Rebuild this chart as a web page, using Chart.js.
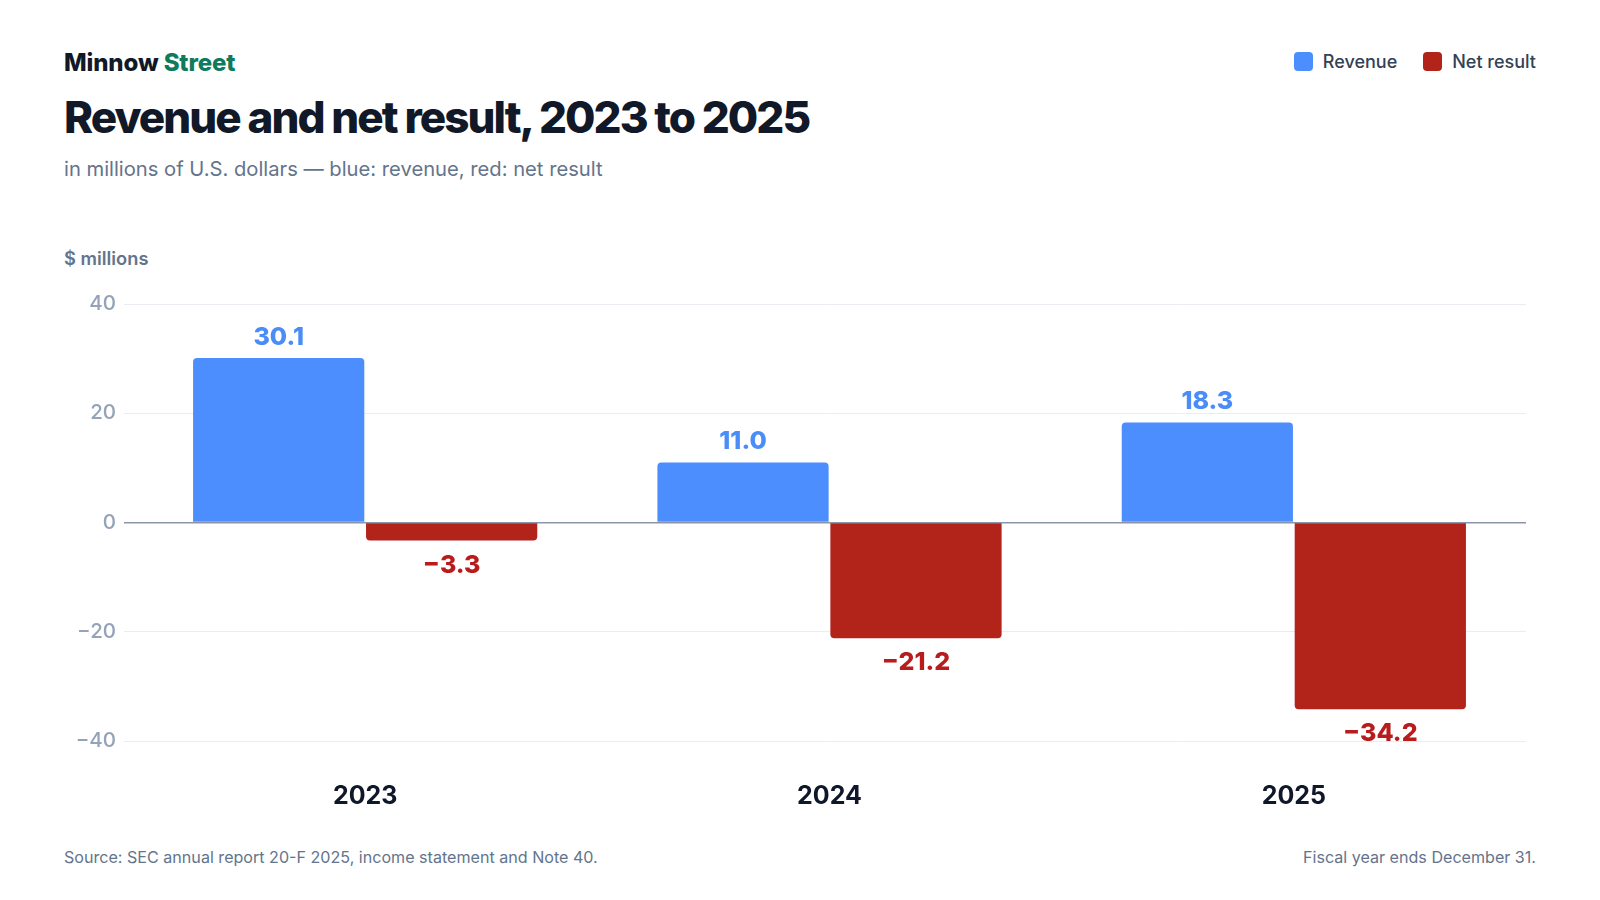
<!DOCTYPE html>
<html>
<head>
<meta charset="utf-8">
<script src="https://cdn.jsdelivr.net/npm/chart.js@4.4.1/dist/chart.umd.min.js"></script>
<style>
  html, body { margin: 0; padding: 0; background: #ffffff; }
  body { width: 1600px; height: 900px; position: relative; overflow: hidden; font-family: Inter, "Noto Sans", sans-serif; }
  .txt { position: absolute; line-height: 1; white-space: nowrap; }
  #brand { left: 64px; top: 51px; font-size: 24px; font-weight: 800; color: #111827; letter-spacing: -0.005em; }
  #brand span { color: #0f7b5a; }
  #title { left: 64px; top: 95px; font-size: 44px; font-weight: 800; color: #111827; letter-spacing: -0.044em; }
  #subtitle { left: 64px; top: 159px; font-size: 20.2px; font-weight: 400; color: #64748b; }
  #unit { left: 64px; top: 249px; font-size: 18.3px; font-weight: 600; color: #64748b; }
  #legend { right: 64px; top: 52px; display: flex; align-items: center; gap: 26px; font-size: 18px; font-weight: 500; color: #334155; }
  #legend .item { display: flex; align-items: center; gap: 10px; }
  #legend .sw { width: 19px; height: 19px; border-radius: 4px; display: inline-block; }
  #src { left: 64px; top: 849px; font-size: 16.1px; color: #64748b; }
  #note { right: 64px; top: 849px; font-size: 16.1px; color: #64748b; }
  #wrap { position: absolute; left: 0; top: 0; width: 1600px; height: 900px; }
</style>
</head>
<body>
<div class="txt" id="brand">Minnow <span>Street</span></div>
<div class="txt" id="title">Revenue and net result, 2023 to 2025</div>
<div class="txt" id="subtitle">in millions of U.S. dollars — blue: revenue, red: net result</div>
<div class="txt" id="unit">$ millions</div>
<div class="txt" id="legend">
  <div class="item"><span class="sw" style="background:#4d8eff"></span>Revenue</div>
  <div class="item"><span class="sw" style="background:#b2231a"></span>Net result</div>
</div>
<div class="txt" id="src">Source: SEC annual report 20-F 2025, income statement and Note 40.</div>
<div class="txt" id="note">Fiscal year ends December 31.</div>
<div id="wrap"><canvas id="chart"></canvas></div>

<script>
// Data
const years = ['2023', '2024', '2025'];
const revenue = [30.1, 11.0, 18.3];
const netResult = [-3.3, -21.2, -34.2];
const yTicks = [-40, -20, 0, 20, 40];

const blue = '#4d8eff';
const red = '#b2231a';

function fmt(v, digits) {
    const s = Math.abs(v).toFixed(digits);
    return v < 0 ? '\u2212' + s : s;
}

// Value labels above / below each bar
const valueLabels = {
    id: 'valueLabels',
    afterDatasetsDraw(chart) {
        const ctx = chart.ctx;
        ctx.save();
        ctx.font = '800 25px Inter, "Noto Sans", sans-serif';
        ctx.textAlign = 'center';
        ctx.textBaseline = 'alphabetic';
        chart.data.datasets.forEach((ds, i) => {
            const meta = chart.getDatasetMeta(i);
            meta.data.forEach((bar, j) => {
                const v = ds.data[j];
                ctx.fillStyle = ds.labelColor;
                const y = v >= 0 ? bar.y - 13.5 : bar.y + 32;
                ctx.fillText(fmt(v, 1), bar.x, y);
            });
        });
        ctx.restore();
    }
};

const config = {
    type: 'bar',
    data: {
        labels: years,
        datasets: [
            {
                label: 'Revenue',
                data: revenue,
                backgroundColor: blue,
                labelColor: '#4b8df8',
                borderRadius: 4,
                categoryPercentage: 0.745,
                barPercentage: 0.99
            },
            {
                label: 'Net result',
                data: netResult,
                backgroundColor: red,
                labelColor: '#b91c1c',
                borderRadius: 4,
                categoryPercentage: 0.745,
                barPercentage: 0.99
            }
        ]
    },
    options: {
        responsive: true,
        maintainAspectRatio: false,
        animation: false,
        layout: { padding: { left: 64, right: 74, top: 304, bottom: 79 } },
        plugins: {
            legend: { display: false },
            tooltip: { enabled: false }
        },
        scales: {
            x: {
                grid: { display: false, drawTicks: false },
                border: { display: false },
                ticks: {
                    padding: 40,
                    color: '#0f172a',
                    font: { family: 'Inter', size: 25, weight: 'bold' }
                },
                afterFit(scale) { scale.height = 80; }
            },
            y: {
                min: -40,
                max: 40,
                afterBuildTicks(scale) {
                    scale.ticks = yTicks.map(v => ({ value: v }));
                },
                afterFit(scale) { scale.width = 69; },
                border: { display: false },
                grid: {
                    drawTicks: true,
                    tickLength: 9,
                    color: c => c.tick && c.tick.value === 0 ? '#8b95a7' : '#e9edf2',
                    tickColor: c => c.tick && c.tick.value === 0 ? '#8b95a7' : '#e9edf2',
                    lineWidth: c => c.tick && c.tick.value === 0 ? 1.5 : 1
                },
                ticks: {
                    padding: 8,
                    color: '#94a3b8',
                    font: { family: 'Inter', size: 20.5, weight: 500 },
                    callback: v => fmt(v, 0)
                }
            }
        }
    },
    plugins: [valueLabels]
};

const chart = new Chart(document.getElementById('chart'), config);
</script>
</body>
</html>
